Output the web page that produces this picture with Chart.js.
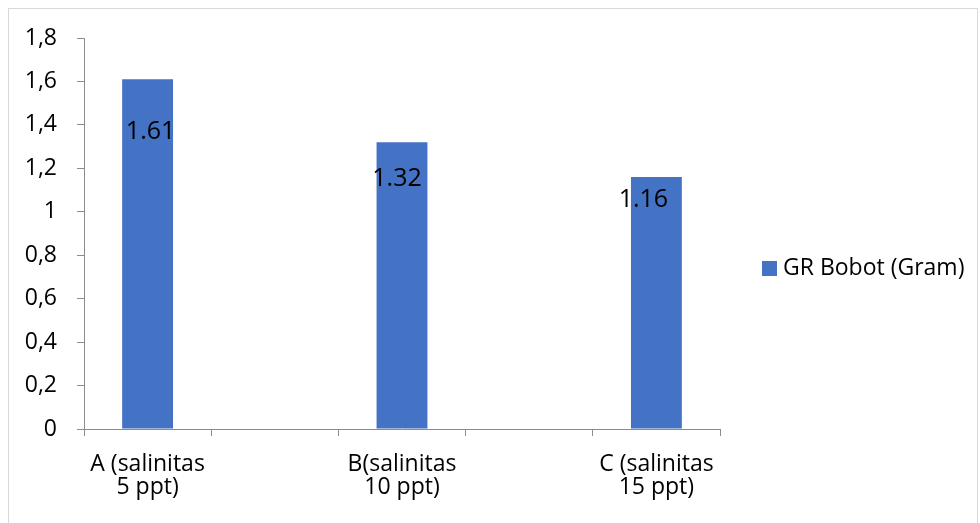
<!DOCTYPE html>
<html>
<head>
<meta charset="utf-8">
<script src="https://cdn.jsdelivr.net/npm/chart.js@4/dist/chart.umd.min.js"></script>
<style>
  html, body { margin: 0; padding: 0; background: #ffffff; }
  #wrap { position: relative; width: 980px; height: 523px; }
</style>
</head>
<body>
<div id="wrap"><canvas id="c" width="980" height="523"></canvas></div>
<script>
// Categories (blank slots separate the three treatments on the axis)
const categories = [
  ["A (salinitas", "5 ppt)"],
  "",
  ["B(salinitas", "10 ppt)"],
  "",
  ["C (salinitas", "15 ppt)"]
];
const seriesName = "GR Bobot (Gram)";
const growthValues = [1.61, null, 1.32, null, 1.16];
const yTicks = [0, 0.2, 0.4, 0.6, 0.8, 1, 1.2, 1.4, 1.6, 1.8];

const FONT = "'Open Sans', Lato, sans-serif";
const BAR_COLOR = "#4472C4";
const AXIS_COLOR = "#8c8c8c";

// Label placement relative to each bar's top (pixels)
const labelShift = [
  { dx: 3, dy: 53 }, null, { dx: -5, dy: 37 }, null, { dx: -13, dy: 23 }
];

const frame = {
  id: "frame",
  beforeDraw(chart) {
    const ctx = chart.ctx;
    ctx.save();
    ctx.strokeStyle = "#d9d9d9";
    ctx.lineWidth = 1;
    ctx.strokeRect(8.5, 8.5, 969, 540);
    ctx.restore();
  }
};

const valueLabels = {
  id: "valueLabels",
  afterDatasetsDraw(chart) {
    const ctx = chart.ctx;
    const meta = chart.getDatasetMeta(0);
    ctx.save();
    ctx.font = "25px " + FONT;
    ctx.fillStyle = "#000000";
    ctx.textAlign = "center";
    ctx.textBaseline = "middle";
    meta.data.forEach((bar, i) => {
      const v = growthValues[i];
      if (v === null) return;
      const s = labelShift[i];
      ctx.fillText(v.toFixed(2), bar.x + s.dx, bar.y + s.dy);
    });
    ctx.restore();
  }
};

const sideLegend = {
  id: "sideLegend",
  afterDraw(chart) {
    const ctx = chart.ctx;
    const ds = chart.data.datasets[0];
    ctx.save();
    ctx.fillStyle = ds.backgroundColor;
    ctx.fillRect(762, 261, 15, 15);
    ctx.font = "23px " + FONT;
    ctx.fillStyle = "#000000";
    ctx.textAlign = "left";
    ctx.textBaseline = "middle";
    ctx.fillText(ds.label, 783, 268);
    ctx.restore();
  }
};

new Chart(document.getElementById("c"), {
  type: "bar",
  data: {
    labels: categories,
    datasets: [{
      label: seriesName,
      data: growthValues,
      backgroundColor: BAR_COLOR,
      borderWidth: 0,
      barPercentage: 0.4,
      categoryPercentage: 1.0
    }]
  },
  options: {
    responsive: false,
    animation: false,
    devicePixelRatio: 1,
    layout: { padding: { left: 20, right: 260, top: 38, bottom: 10 } },
    plugins: {
      legend: { display: false },
      tooltip: { enabled: false }
    },
    scales: {
      x: {
        grid: {
          display: true,
          offset: true,
          drawOnChartArea: false,
          drawTicks: true,
          tickLength: 7,
          color: AXIS_COLOR
        },
        border: { display: true, color: AXIS_COLOR, width: 1 },
        ticks: {
          color: "#000000",
          font: { family: FONT, size: 23, lineHeight: 1.0 },
          padding: 17,
          maxRotation: 0,
          autoSkip: false
        },
        afterFit(scale) { scale.height = 523 - 429 - 10; }
      },
      y: {
        min: 0,
        max: 1.8,
        afterBuildTicks(scale) {
          scale.ticks = yTicks.map(v => ({ value: v }));
        },
        grid: {
          display: true,
          drawOnChartArea: false,
          drawTicks: true,
          tickLength: 7,
          color: AXIS_COLOR
        },
        border: { display: true, color: AXIS_COLOR, width: 1 },
        ticks: {
          color: "#000000",
          font: { family: FONT, size: 23 },
          padding: 20,
          callback(value) {
            return String(Number(value.toFixed(1))).replace(".", ",");
          }
        },
        afterFit(scale) { scale.width = 84 - 20; }
      }
    }
  },
  plugins: [frame, valueLabels, sideLegend]
});
</script>
</body>
</html>
